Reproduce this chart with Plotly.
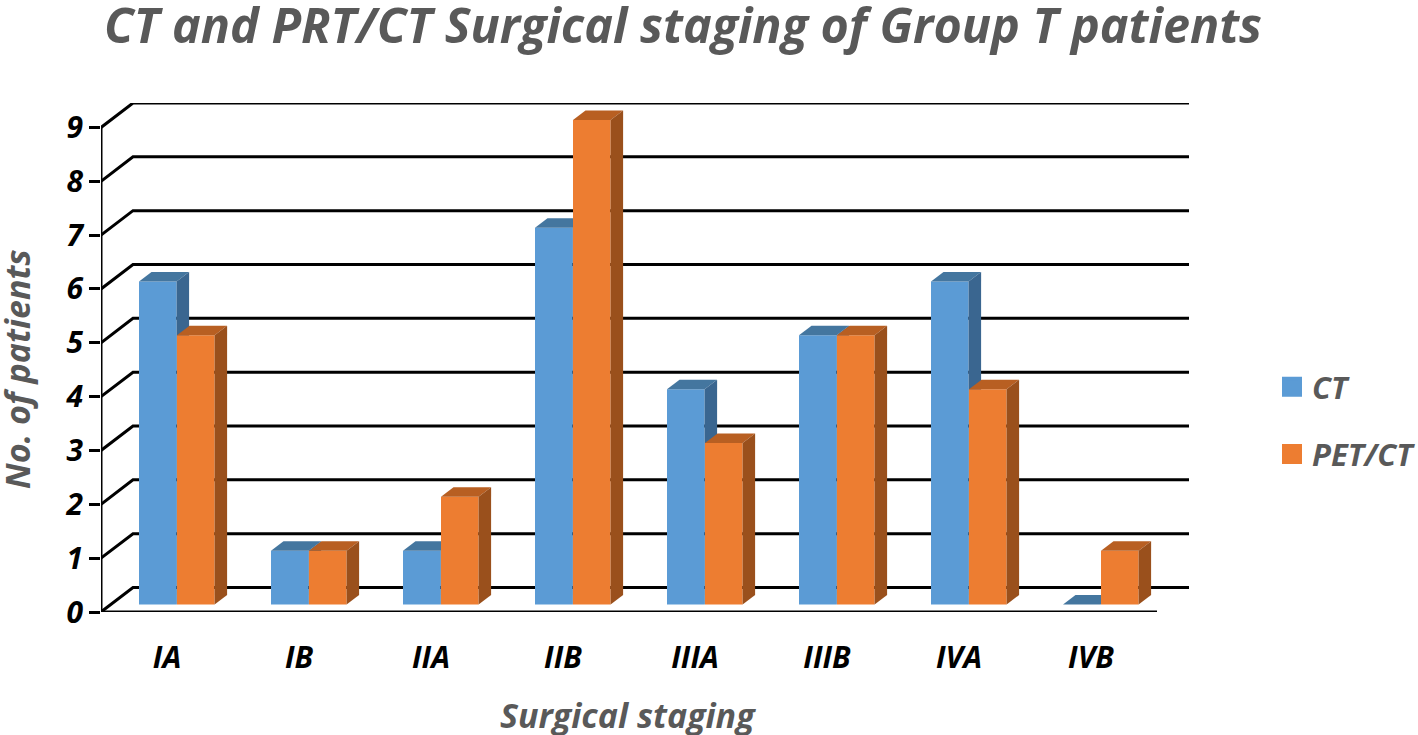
import plotly.graph_objects as go

categories = ["IA", "IB", "IIA", "IIB", "IIIA", "IIIB", "IVA", "IVB"]
ct_values = [6, 1, 1, 7, 4, 5, 6, 0]
pet_values = [5, 1, 2, 9, 3, 5, 4, 1]
y_ticks = list(range(10))
title_text = "CT and PRT/CT Surgical staging of Group T patients"

FONT = "Open Sans"
GREY = "#595959"
WALL_DX, WALL_DY = 32 / 132, 24.5 / 53.94
BASE = 7.5 / 53.94
DEPTH_DX, DEPTH_DY = 12.5 / 132, 9.5 / 53.94
BAR_W = 37.6 / 132
CT_OFF, PET_OFF = -9.2 / 132, 28.8 / 132
XR = [-0.5, 7.5 + WALL_DX]
YR = [0, 9 + WALL_DY]
pos = list(range(len(categories)))


def font(size, color):
    return dict(family=FONT, size=size, color=color, weight="bold", style="italic")


fig = go.Figure()

# wall + back gridlines
for v in y_ticks:
    fig.add_trace(go.Scatter(
        x=[-0.5, -0.5 + WALL_DX, 7.5 + WALL_DX], y=[v, v + WALL_DY, v + WALL_DY],
        mode="lines", line=dict(color="black", width=3), showlegend=False, hoverinfo="skip",
        cliponaxis=False))
# front axes
fig.add_trace(go.Scatter(x=[-0.5, -0.5, 7.5], y=[9, 0, 0], mode="lines",
                         line=dict(color="black", width=3), showlegend=False, hoverinfo="skip",
                         cliponaxis=False))


def add_series(values, off, front, top, side, name, axis):
    xa, ya = f"x{axis}", f"y{axis}"
    fig.add_trace(go.Bar(x=[p + off for p in pos], y=values, base=[BASE] * len(values),
                         width=BAR_W, marker=dict(color=front, line=dict(width=0)),
                         name=name, showlegend=False, xaxis=xa, yaxis=ya))
    for p, v in zip(pos, values):
        l, r = p + off - BAR_W / 2, p + off + BAR_W / 2
        t, b = BASE + v, BASE
        fig.add_trace(go.Scatter(
            x=[l, r, r + DEPTH_DX, l + DEPTH_DX, l], y=[t, t, t + DEPTH_DY, t + DEPTH_DY, t],
            fill="toself", fillcolor=top, mode="none", showlegend=False, hoverinfo="skip",
            xaxis=xa, yaxis=ya))
        if v > 0:
            fig.add_trace(go.Scatter(
                x=[r, r + DEPTH_DX, r + DEPTH_DX, r, r],
                y=[b, b + DEPTH_DY, t + DEPTH_DY, t, b],
                fill="toself", fillcolor=side, mode="none", showlegend=False, hoverinfo="skip",
                xaxis=xa, yaxis=ya))


add_series(ct_values, CT_OFF, "#5B9BD5", "#44769F", "#3A6690", "CT", 2)
add_series(pet_values, PET_OFF, "#ED7D31", "#B85F22", "#9A501C", "PET/CT", 3)

# legend entries
for name, col in [("CT", "#5B9BD5"), ("PET/CT", "#ED7D31")]:
    fig.add_trace(go.Scatter(x=[None], y=[None], mode="markers", name=name, legendgroup=name,
                             marker=dict(symbol="square", size=16, color=col,
                                         line=dict(color=col, width=4))))

hidden_x = dict(range=XR, visible=False, overlaying="x", fixedrange=True)
hidden_y = dict(range=YR, visible=False, overlaying="y", fixedrange=True)

fig.update_layout(
    width=1418, height=735,
    paper_bgcolor="white", plot_bgcolor="white",
    margin=dict(l=101, r=229, t=102.5, b=122.5, pad=0, autoexpand=False),
    barmode="overlay",
    title=dict(text=title_text, font=font(48.5, GREY), x=683 / 1418, xanchor="center",
               y=1 - 26 / 735, yanchor="middle"),
    xaxis=dict(range=XR, tickmode="array", tickvals=pos, ticktext=categories,
               tickfont=font(30, "black"), showgrid=False, zeroline=False, showline=False,
               ticks="outside", ticklen=19, tickcolor="rgba(0,0,0,0)"),
    yaxis=dict(range=YR, tickmode="array", tickvals=y_ticks, ticktext=[str(v) for v in y_ticks],
               tickfont=font(30, "black"), showgrid=False, zeroline=False, showline=False,
               ticks="outside", ticklen=11, tickwidth=3, tickcolor="black"),
    xaxis2=hidden_x, yaxis2=hidden_y, xaxis3=hidden_x, yaxis3=hidden_y,
    legend=dict(xref="container", yref="container", x=1272 / 1418, y=1 - 360 / 735,
                xanchor="left", yanchor="top", font=font(31, GREY), tracegroupgap=24,
                bgcolor="rgba(0,0,0,0)", itemclick=False, itemdoubleclick=False),
    annotations=[
        dict(text="No. of patients", xref="paper", yref="paper", showarrow=False, textangle=-90,
             x=(17 - 101) / 1088, y=(612.5 - 370) / 510, xanchor="center", yanchor="middle",
             font=font(34, GREY)),
        dict(text="Surgical staging", xref="paper", yref="paper", showarrow=False,
             x=(628 - 101) / 1088, y=(612.5 - 716) / 510, xanchor="center", yanchor="middle",
             font=font(34, GREY)),
    ],
)

fig.write_html("out.html", config=dict(displayModeBar=False),
               post_script="document.body.style.margin='0';document.body.style.overflow='hidden';")
